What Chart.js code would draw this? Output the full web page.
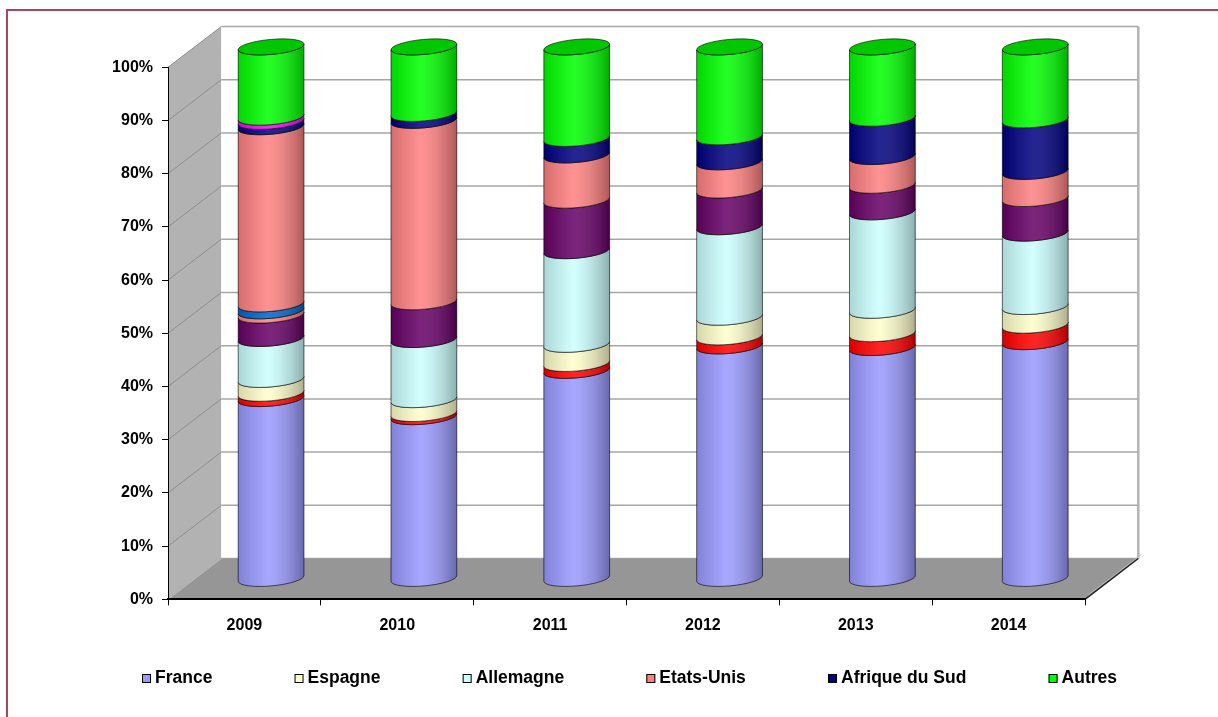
<!DOCTYPE html>
<html>
<head>
<meta charset="utf-8">
<script src="https://cdn.jsdelivr.net/npm/chart.js@4.4.1/dist/chart.umd.min.js"></script>
<style>
    html, body { margin: 0; padding: 0; background: #ffffff; }
    #wrap { position: relative; width: 1218px; height: 717px; overflow: hidden; }
    #frame { position: absolute; left: 6px; top: 9px; width: 1300px; height: 800px;
             border-left: 2px solid #a9465b; border-top: 2px solid #a9465b; pointer-events: none; }
</style>
</head>
<body>
<div id="wrap">
    <canvas id="partsPays"></canvas>
    <div id="frame"></div>
</div>
<script>
// Parts par pays (%), empilement de bas en haut
const years = ['2009', '2010', '2011', '2012', '2013', '2014'];
const france = [33.9, 30.5, 39.2, 43.8, 43.5, 44.6];
const serie2 = [1.0, 0.6, 1.3, 1.7, 2.6, 3.1];
const espagne = [2.6, 2.6, 3.6, 3.7, 4.4, 3.5];
const allemagne = [7.7, 11.3, 17.6, 17.0, 18.5, 13.8];
const serie5 = [4.4, 7.1, 9.5, 6.9, 5.0, 6.5];
const serie6 = [0.8, 0, 0, 0, 0, 0];
const serie7 = [1.3, 0, 0, 0, 0, 0];
const etatsUnis = [33.3, 34.1, 8.5, 5.3, 5.4, 5.1];
const afriqueDuSud = [1.0, 1.3, 3.1, 4.7, 7.2, 9.7];
const serie10 = [0.8, 0, 0, 0, 0, 0];
const autres = [13.2, 12.5, 17.2, 16.9, 13.4, 13.7];
const yTicks = [0, 10, 20, 30, 40, 50, 60, 70, 80, 90, 100];
const legendNames = ['France', 'Espagne', 'Allemagne', 'Etats-Unis', 'Afrique du Sud', 'Autres'];

const DEPTH = { x: 53.3, y: -40.8 };  // décalage avant -> fond
const RY = 7.5;
const TILT = -0.09;
const FONT = "'Liberation Sans', Arial, sans-serif";

function ring(ctx, cx, yt, yb, rx) {
    ctx.beginPath();
    ctx.ellipse(cx, yb, rx, RY, TILT, Math.PI, 0, true);
    ctx.ellipse(cx, yt, rx, RY, TILT, 0, Math.PI, false);
    ctx.closePath();
}

function drawSegment(ctx, p, color, isTop) {
    const cx = p.x + DEPTH.x / 2;
    const rx = p.width / 2;
    const yt = p.y + DEPTH.y / 2;
    const yb = p.base + DEPTH.y / 2;
    ring(ctx, cx, yt, yb, rx);
    ctx.fillStyle = color;
    ctx.fill();
    const g = ctx.createLinearGradient(cx - rx, 0, cx + rx, 0);
    g.addColorStop(0, 'rgba(0,0,0,0.16)');
    g.addColorStop(0.45, 'rgba(255,255,255,0.14)');
    g.addColorStop(1, 'rgba(0,0,0,0.32)');
    ctx.fillStyle = g;
    ctx.fill();
    ctx.strokeStyle = 'rgba(0,0,0,0.75)';
    ctx.lineWidth = 0.8;
    ctx.stroke();
    if (isTop) {
        ctx.beginPath();
        ctx.ellipse(cx, yt, rx, RY, TILT, 0, Math.PI * 2);
        ctx.fillStyle = color;
        ctx.fill();
        ctx.fillStyle = 'rgba(0,0,0,0.22)';
        ctx.fill();
        ctx.stroke();
    }
}

const walls = {
    id: 'walls',
    beforeDraw(chart) {
        const { ctx, chartArea: a, scales: { y } } = chart;
        const dx = DEPTH.x, dy = DEPTH.y;
        ctx.save();
        // paroi latérale
        ctx.beginPath();
        ctx.moveTo(a.left, a.top);
        ctx.lineTo(a.left + dx, a.top + dy);
        ctx.lineTo(a.left + dx, a.bottom + dy);
        ctx.lineTo(a.left, a.bottom);
        ctx.closePath();
        ctx.fillStyle = '#b2b2b2';
        ctx.fill();
        // paroi du fond
        ctx.fillStyle = '#ffffff';
        ctx.fillRect(a.left + dx, a.top + dy, a.right - a.left, a.bottom - a.top);
        // quadrillage
        ctx.lineWidth = 1.5;
        yTicks.forEach(v => {
            const py = y.getPixelForValue(v);
            ctx.strokeStyle = '#a6a6a6';
            ctx.beginPath();
            ctx.moveTo(a.left + dx, py + dy);
            ctx.lineTo(a.right + dx, py + dy);
            ctx.stroke();
            ctx.strokeStyle = '#8e8e8e';
            ctx.lineWidth = 1;
            ctx.beginPath();
            ctx.moveTo(a.left, py);
            ctx.lineTo(a.left + dx, py + dy);
            ctx.stroke();
            ctx.lineWidth = 1.5;
        });
        ctx.strokeStyle = '#b4b4b4';
        ctx.lineWidth = 2.5;
        ctx.beginPath();
        ctx.moveTo(a.right + dx, a.top + dy);
        ctx.lineTo(a.right + dx, a.bottom + dy);
        ctx.stroke();
        // sol
        ctx.beginPath();
        ctx.moveTo(a.left, a.bottom);
        ctx.lineTo(a.right, a.bottom);
        ctx.lineTo(a.right + dx, a.bottom + dy);
        ctx.lineTo(a.left + dx, a.bottom + dy);
        ctx.closePath();
        ctx.fillStyle = '#969696';
        ctx.fill();
        ctx.strokeStyle = '#bdbdbd';
        ctx.lineWidth = 1;
        ctx.beginPath();
        ctx.moveTo(a.left, a.bottom);
        ctx.lineTo(a.left + dx, a.bottom + dy);
        ctx.moveTo(a.right + 3, a.bottom - 4);
        ctx.lineTo(a.right + dx + 3, a.bottom + dy - 4);
        ctx.stroke();
        ctx.strokeStyle = '#222';
        ctx.lineWidth = 1.5;
        ctx.beginPath();
        ctx.moveTo(a.right, a.bottom);
        ctx.lineTo(a.right + dx, a.bottom + dy);
        ctx.stroke();
        ctx.restore();
    }
};

const cylinders = {
    id: 'cylinders',
    beforeDatasetsDraw(chart) {
        const ctx = chart.ctx;
        ctx.save();
        chart.data.labels.forEach((lab, i) => {
            const segs = [];
            chart.data.datasets.forEach((ds, d) => {
                if (!ds.data[i]) return;
                const el = chart.getDatasetMeta(d).data[i];
                segs.push({ p: el.getProps(['x', 'y', 'base', 'width'], true), color: ds.backgroundColor });
            });
            segs.forEach((s, k) => drawSegment(ctx, s.p, s.color, k === segs.length - 1));
        });
        ctx.restore();
        return false;
    }
};

const legendBar = {
    id: 'legendBar',
    afterDraw(chart) {
        const ctx = chart.ctx;
        const items = chart.data.datasets.filter(ds => legendNames.includes(ds.label));
        ctx.save();
        ctx.font = 'bold 17.5px ' + FONT;
        ctx.textBaseline = 'middle';
        const start = 142, end = 1117;
        const widths = items.map(ds => 13 + ctx.measureText(ds.label).width);
        const gap = (end - start - widths.reduce((s, w) => s + w, 0)) / (items.length - 1);
        let x = start;
        const yc = 678.5;
        items.forEach((ds, k) => {
            ctx.fillStyle = ds.backgroundColor;
            ctx.fillRect(x, yc - 4.5, 9, 9);
            ctx.strokeStyle = '#000';
            ctx.lineWidth = 1;
            ctx.strokeRect(x + 0.5, yc - 4, 8, 8);
            ctx.fillStyle = '#000';
            ctx.fillText(ds.label, x + 13, yc);
            x += widths[k] + gap;
        });
        ctx.restore();
    }
};

window.addEventListener('load', function () {
    Chart.defaults.font.family = FONT;
    Chart.defaults.color = '#000';

    const ctx = document.getElementById('partsPays').getContext('2d');
    const config = {
        type: 'bar',
        data: {
            labels: years,
            datasets: [
                { label: 'France', data: france, backgroundColor: '#9999FF' },
                { label: 'Série 2', data: serie2, backgroundColor: '#FF0000' },
                { label: 'Espagne', data: espagne, backgroundColor: '#FFFFCC' },
                { label: 'Allemagne', data: allemagne, backgroundColor: '#CCFFFF' },
                { label: 'Série 5', data: serie5, backgroundColor: '#660066' },
                { label: 'Série 6', data: serie6, backgroundColor: '#FF8080' },
                { label: 'Série 7', data: serie7, backgroundColor: '#0066CC' },
                { label: 'Etats-Unis', data: etatsUnis, backgroundColor: '#FF8080' },
                { label: 'Afrique du Sud', data: afriqueDuSud, backgroundColor: '#000080' },
                { label: 'Série 10', data: serie10, backgroundColor: '#FF00FF' },
                { label: 'Autres', data: autres, backgroundColor: '#00FF00' }
            ]
        },
        options: {
            responsive: true,
            maintainAspectRatio: false,
            animation: false,
            layout: { padding: { top: 67.3, right: 133, left: 0, bottom: 0 } },
            datasets: { bar: { barPercentage: 1, categoryPercentage: 0.432 } },
            plugins: {
                legend: { display: false },
                tooltip: { enabled: false }
            },
            scales: {
                x: {
                    stacked: true,
                    afterFit(scale) { scale.height = 117.7; },
                    grid: { drawOnChartArea: false, color: '#000', tickLength: 6 },
                    border: { color: '#000', width: 2 },
                    ticks: { padding: 10.6, font: { size: 16, weight: 'bold' } }
                },
                y: {
                    stacked: true,
                    min: 0,
                    max: 100,
                    afterFit(scale) { scale.width = 168; },
                    afterBuildTicks(scale) { scale.ticks = yTicks.map(v => ({ value: v })); },
                    grid: { drawOnChartArea: false, color: '#000', tickLength: 6 },
                    border: { color: '#000', width: 1 },
                    ticks: { padding: 9, font: { size: 16, weight: 'bold' }, callback: v => v + '%' }
                }
            }
        },
        plugins: [walls, cylinders, legendBar]
    };
    new Chart(ctx, config);
});
</script>
</body>
</html>
